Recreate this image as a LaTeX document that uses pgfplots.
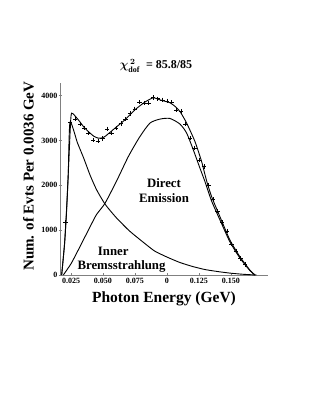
\documentclass[border=0pt]{standalone}
\usepackage{fontspec}
\setmainfont{Liberation Serif}
\usepackage{pgfplots}
\pgfplotsset{compat=1.18}
\begin{document}
\begin{tikzpicture}
\useasboundingbox (-60pt,-134pt) rectangle (256pt,275pt);
\begin{axis}[
  at={(0pt,0pt)}, anchor=south west,
  scale only axis, width=208pt, height=192pt,
  xmin=0.0164, xmax=0.179, ymin=0, ymax=4280,
  axis x line=bottom, axis y line=left,
  axis line style={-, gray, line width=0.6pt},
  xtick={0.025,0.05,0.075,0.1,0.125,0.15},
  xticklabels={0.025,0.050,0.075,0,0.125,0.150},
  ytick={0,1000,2000,3000,4000},
  yticklabels={0,1000,2000,3000,4000},
  x tick style={gray, line width=0.5pt}, y tick style={gray, line width=0.5pt},
  major tick length=3pt,
  /pgf/number format/assume math mode=true,
  ticklabel style={font=\bfseries\fontsize{8}{9}\selectfont, text=black},
  xticklabel style={yshift=2pt},
  yticklabel style={xshift=2.5pt},
  title={{\boldmath$\chi^{\,2}_{\mathrm{dof}}$}\ \ = 85.8/85},
  title style={font=\bfseries\fontsize{12}{14}\selectfont, at={(axis description cs:0.5,1)}, anchor=center, yshift=11pt, xshift=-8pt},
  xlabel={Photon Energy (GeV)},
  xlabel style={font=\bfseries\fontsize{15.5}{17}\selectfont, at={(axis description cs:0.5,0)}, anchor=center, yshift=-24pt},
  ylabel={Num. of Evts Per 0.0036 GeV},
  ylabel style={font=\bfseries\fontsize{15}{17}\selectfont, at={(axis description cs:-0.152,0.515)}, anchor=center},
  clip=false,
]
% total fit
\addplot[black, line width=0.9pt, smooth, tension=0.35] coordinates {
(0.0177,0) (0.0200,720) (0.0215,1450) (0.0230,2350) (0.0245,3300) (0.0255,3609)
(0.0307,3460) (0.0350,3300) (0.0385,3199) (0.0430,3090) (0.0463,3051) (0.0490,3055)
(0.0516,3088) (0.0594,3274) (0.0672,3460) (0.0750,3683) (0.0828,3855) (0.0893,3950)
(0.0950,3900) (0.1023,3840) (0.1063,3760) (0.1102,3645) (0.1154,3386) (0.1219,2975)
(0.1271,2529) (0.1310,2100) (0.1349,1748) (0.1414,1301) (0.1492,781) (0.1570,408)
(0.1648,112) (0.1688,0)
};
% inner bremsstrahlung
\addplot[black, line width=0.9pt, smooth, tension=0.35] coordinates {
(0.0177,0) (0.0200,700) (0.0215,1400) (0.0228,2200) (0.0242,3408) (0.0300,2950)
(0.0350,2600) (0.0400,2220) (0.0450,1900) (0.0516,1580) (0.0600,1290) (0.0700,1000)
(0.0776,819) (0.0850,650) (0.0906,530) (0.1000,400) (0.1100,280) (0.1200,190)
(0.1300,120) (0.1414,70) (0.1500,40) (0.1600,15) (0.1700,0)
};
% direct emission
\addplot[black, line width=0.9pt, smooth, tension=0.4] coordinates {
(0.0190,0) (0.0250,250) (0.0300,520) (0.0350,800) (0.0400,1080) (0.0450,1350)
(0.0516,1600) (0.0607,2100) (0.0700,2650) (0.0789,3087) (0.0867,3386) (0.0945,3475)
(0.1023,3490) (0.1102,3364) (0.1154,3163) (0.1206,2790) (0.1258,2382) (0.1297,2083)
(0.1349,1650) (0.1414,1230) (0.1492,740) (0.1570,380) (0.1648,100) (0.1688,0)
};
% data
\addplot[only marks, mark=+, mark size=2.2pt, black, mark options={line width=0.5pt}] coordinates {
(0.0208,1170) (0.0244,3400) (0.0283,3475) (0.0320,3363) (0.0354,3274) (0.0388,3160)
(0.0424,3013) (0.0460,2991) (0.0496,3040) (0.0532,3259) (0.0568,3163) (0.0604,3274)
(0.0640,3380) (0.0676,3475) (0.0712,3600) (0.0748,3705) (0.0784,3850) (0.0820,3832)
(0.0856,3832) (0.0892,3958) (0.0928,3929) (0.0964,3906) (0.1000,3880) (0.1036,3850)
(0.1072,3683) (0.1108,3645) (0.1144,3364) (0.1180,3051) (0.1216,2828) (0.1252,2567)
(0.1288,2417) (0.1324,2000) (0.1360,1680) (0.1396,1430) (0.1432,1170) (0.1468,980)
(0.1504,690) (0.1540,540) (0.1576,370) (0.1612,230)
};
\node[font=\bfseries\fontsize{12.8}{15}\selectfont, align=center] at (axis cs:0.0977,1886) {Direct\\Emission};
\node[font=\bfseries\fontsize{12.8}{15}\selectfont] at (axis cs:0.0580,536) {Inner};
\node[font=\bfseries\fontsize{12.8}{15}\selectfont] at (axis cs:0.0645,201) {Bremsstrahlung};
\end{axis}
\end{tikzpicture}
\end{document}
